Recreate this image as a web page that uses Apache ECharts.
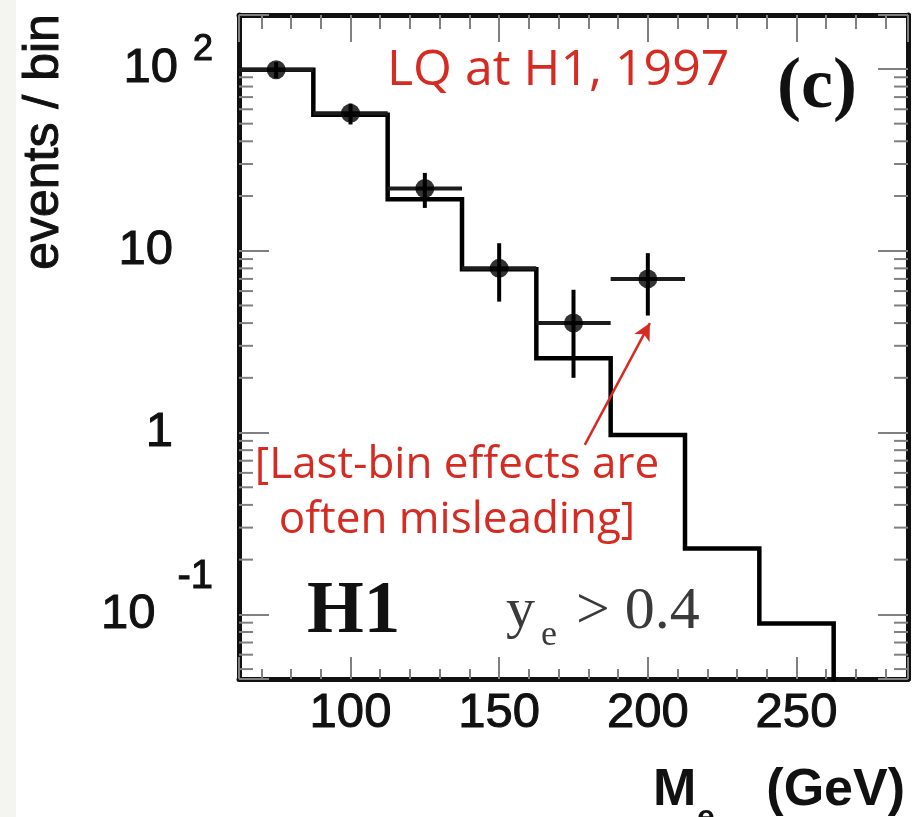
<!DOCTYPE html>
<html>
<head>
<meta charset="utf-8">
<script src="https://cdn.jsdelivr.net/npm/echarts@6/dist/echarts.min.js"></script>
<style>
  html, body { margin: 0; padding: 0; background: #ffffff; }
  #chart { width: 920px; height: 817px; }
</style>
</head>
<body>
<div id="chart"></div>
<script>
// Mass bins (GeV): lower edges, 25 GeV wide
const binWidth = 25;
const binLowEdges = [62.5, 87.5, 112.5, 137.5, 162.5, 187.5, 212.5, 237.5, 262.5];
// Expected events per bin (step histogram)
const expectedEvents = [99, 56, 19.2, 7.9, 2.56, 0.97, 0.23, 0.089, 0.03];

// Observed events at the bin centres, with asymmetric errors
const massCenters = [75, 100, 125, 150, 175, 200];
const observedEvents = [99, 57, 22, 8, 4, 7];
const errDown = [10, 7.5, 4.8, 2.75, 2.0, 2.6];
const errUp = [10, 7.5, 4.8, 3.0, 2.1, 2.7];

// Axis ranges and tick values
const massRange = [62.5, 287.5];
const eventsRange = [0.0441, 198];
const massTickLabels = [100, 150, 200, 250];
const decadeTickLabels = { '-1': ['10', '-1'], '0': ['1', ''], '1': ['10', ''], '2': ['10', '2'] };
const minorDecadeTicks = [
  0.05, 0.06, 0.07, 0.08, 0.09,
  0.2, 0.3, 0.4, 0.5, 0.6, 0.7, 0.8, 0.9,
  2, 3, 4, 5, 6, 7, 8, 9,
  20, 30, 40, 50, 60, 70, 80, 90
];

const SANS = "'Liberation Sans', Arial, Helvetica, sans-serif";
const SERIF = "'Liberation Serif', 'Times New Roman', serif";
const NOTE = "'Open Sans', 'Noto Sans', sans-serif";
const RED = '#d62b23';
const INK = '#111111';
const FRAME = '#111111';
const TICK = '#808080';

const chart = echarts.init(document.getElementById('chart'), null, { renderer: 'canvas' });

// step histogram points at the lower bin edges, closed at the upper range end
const histData = binLowEdges.map((e, i) => [e, expectedEvents[i]]);
histData.push([massRange[1], expectedEvents[expectedEvents.length - 1]]);

const pointData = massCenters.map((m, i) => [m, observedEvents[i], errDown[i], errUp[i]]);

// slightly heavier sans text (outlined with its own colour)
const heavy = { textBorderColor: INK, textBorderWidth: 1 };

function massAxis(position, majorLen, minorLen, showLabels) {
  return {
    type: 'value',
    position: position,
    min: massRange[0],
    max: massRange[1],
    splitNumber: 5,
    axisLine: { show: true, onZero: false, lineStyle: { color: FRAME, width: 5 } },
    axisTick: { show: true, inside: true, length: majorLen, lineStyle: { color: TICK, width: 2 } },
    minorTick: { show: true, splitNumber: 5, length: minorLen, lineStyle: { color: TICK, width: 2 } },
    splitLine: { show: false },
    minorSplitLine: { show: false },
    axisLabel: Object.assign({
      show: showLabels,
      margin: 10,
      fontFamily: SANS,
      fontSize: 49,
      color: INK,
      formatter: v => (massTickLabels.indexOf(v) >= 0 ? String(v) : '')
    }, heavy)
  };
}

function eventsAxis(position, showLabels) {
  const tok = Object.assign({ fontFamily: SANS, color: INK }, heavy);
  return {
    type: 'log',
    logBase: 10,
    position: position,
    min: eventsRange[0],
    max: eventsRange[1],
    axisLine: { show: true, onZero: false, lineStyle: { color: FRAME, width: 5 } },
    axisTick: { show: true, inside: true, length: 30, lineStyle: { color: TICK, width: 2 } },
    minorTick: { show: false },
    splitLine: { show: false },
    axisLabel: {
      show: showLabels,
      margin: 26,
      formatter: v => {
        const lg = Math.log10(v);
        const k = Math.round(lg);
        if (Math.abs(lg - k) > 1e-6 || !decadeTickLabels[k]) return '';
        const [base, sup] = decadeTickLabels[k];
        if (sup === '2') return '{b|' + base + '}{s2|' + sup + '}';
        if (sup === '-1') return '{bt|' + base + '}{s1|' + sup + '}';
        return '{b|' + base + '}{p|\u00a0}';
      },
      rich: {
        b: Object.assign({ fontSize: 49, lineHeight: 74 }, tok),
        bt: Object.assign({ fontSize: 49, lineHeight: 114 }, tok),
        s2: Object.assign({ fontSize: 36, lineHeight: 30, verticalAlign: 'top', padding: [0, 0, 0, 15] }, tok),
        s1: Object.assign({ fontSize: 40, lineHeight: 40, verticalAlign: 'top', padding: [0, 0, 0, 22] }, tok),
        p: { fontFamily: SANS, fontSize: 35, width: 40 }
      }
    }
  };
}

const option = {
  backgroundColor: '#ffffff',
  animation: false,
  grid: { left: 239, right: 12, top: 15, bottom: 138, containLabel: false, outerBoundsMode: 'none' },
  xAxis: [massAxis('bottom', 22, 10, true), massAxis('top', 27, 14, false)],
  yAxis: [eventsAxis('left', true), eventsAxis('right', false)],
  series: [
    {
      // minor decade ticks drawn inside both vertical frame edges
      type: 'custom',
      silent: true,
      coordinateSystem: 'cartesian2d',
      data: minorDecadeTicks.map(v => [massRange[0], v]),
      encode: { x: 0, y: 1 },
      renderItem: (params, api) => {
        const p = api.coord([api.value(0), api.value(1)]);
        const cs = params.coordSys;
        const style = { stroke: TICK, lineWidth: 2 };
        return {
          type: 'group',
          children: [
            { type: 'line', shape: { x1: cs.x, y1: p[1], x2: cs.x + 14, y2: p[1] }, style: style },
            { type: 'line', shape: { x1: cs.x + cs.width - 14, y1: p[1], x2: cs.x + cs.width, y2: p[1] }, style: style }
          ]
        };
      },
      z: 1
    },
    {
      // expected distribution
      type: 'line',
      step: 'end',
      data: histData,
      symbol: 'none',
      clip: true,
      lineStyle: { color: '#000', width: 4.5, join: 'miter', cap: 'butt' },
      z: 2
    },
    {
      // error bars: vertical = stat. error, horizontal = bin width
      type: 'custom',
      silent: true,
      coordinateSystem: 'cartesian2d',
      data: pointData,
      encode: { x: 0, y: 1 },
      renderItem: (params, api) => {
        const x = api.value(0), y = api.value(1), lo = api.value(2), hi = api.value(3);
        const c = api.coord([x, y]);
        const pLo = api.coord([x, y - lo]);
        const pHi = api.coord([x, y + hi]);
        const pL = api.coord([x - binWidth / 2, y]);
        const pR = api.coord([x + binWidth / 2, y]);
        return {
          type: 'group',
          children: [
            { type: 'line', shape: { x1: pL[0], y1: c[1], x2: pR[0], y2: c[1] }, style: { stroke: '#1c1c1c', lineWidth: 4 } },
            { type: 'line', shape: { x1: c[0], y1: pHi[1], x2: c[0], y2: pLo[1] }, style: { stroke: '#000', lineWidth: 4 } }
          ]
        };
      },
      z: 3
    },
    {
      // observed events
      type: 'scatter',
      data: pointData.map(d => [d[0], d[1]]),
      symbol: 'circle',
      symbolSize: 19,
      itemStyle: { color: '#000' },
      z: 4,
      markLine: {
        silent: true,
        animation: false,
        symbol: ['none', 'arrow'],
        symbolSize: [13, 17],
        label: { show: false },
        lineStyle: { color: RED, width: 2.5, type: 'solid' },
        emphasis: { disabled: true },
        data: [[{ coord: [178.8, 0.855] }, { coord: [200.7, 4.0] }]]
      }
    }
  ],
  graphic: [
    { type: 'rect', silent: true, shape: { x: 0, y: 0, width: 16, height: 817 }, style: { fill: '#f4f4f1' }, z: -10 },
    {
      type: 'text', x: 44, y: 142, rotation: Math.PI / 2,
      style: Object.assign({ text: 'events / bin', fontFamily: SANS, fontSize: 50, fill: INK, align: 'center', verticalAlign: 'middle', stroke: INK, lineWidth: 1 })
    },
    {
      type: 'text', x: 653, y: 791,
      style: { text: 'M', fontFamily: SANS, fontWeight: 'bold', fontSize: 52, fill: INK, align: 'left', verticalAlign: 'middle' }
    },
    {
      type: 'text', x: 697, y: 818,
      style: { text: 'e', fontFamily: SANS, fontWeight: 'bold', fontSize: 32, fill: INK, align: 'left', verticalAlign: 'middle' }
    },
    {
      type: 'text', x: 905, y: 791,
      style: { text: '(GeV)', fontFamily: SANS, fontWeight: 'bold', fontSize: 52, fill: INK, align: 'right', verticalAlign: 'middle' }
    },
    {
      type: 'text', x: 387, y: 71,
      style: { text: 'LQ at H1, 1997', fontFamily: NOTE, fontSize: 50, fill: RED, align: 'left', verticalAlign: 'middle' }
    },
    {
      type: 'text', x: 777, y: 88,
      style: { text: '(c)', fontFamily: SERIF, fontWeight: 'bold', fontSize: 72, fill: INK, align: 'left', verticalAlign: 'middle' }
    },
    {
      type: 'text', x: 457, y: 493,
      style: {
        text: '[Last-bin effects are\noften misleading]', fontFamily: NOTE, fontSize: 44, lineHeight: 55,
        fill: RED, align: 'center', verticalAlign: 'middle'
      }
    },
    {
      type: 'text', x: 307, y: 613,
      style: { text: 'H1', fontFamily: SERIF, fontWeight: 'bold', fontSize: 73, fill: INK, align: 'left', verticalAlign: 'middle' }
    },
    {
      type: 'text', x: 506, y: 612,
      style: { text: 'y', fontFamily: SERIF, fontSize: 58, fill: '#3a3a3a', align: 'left', verticalAlign: 'middle' }
    },
    {
      type: 'text', x: 541, y: 636,
      style: { text: 'e', fontFamily: SERIF, fontSize: 36, fill: '#3a3a3a', align: 'left', verticalAlign: 'middle' }
    },
    {
      type: 'text', x: 576, y: 612,
      style: { text: '> 0.4', fontFamily: SERIF, fontSize: 60, fill: '#3a3a3a', align: 'left', verticalAlign: 'middle' }
    }
  ]
};

chart.setOption(option);
</script>
</body>
</html>
